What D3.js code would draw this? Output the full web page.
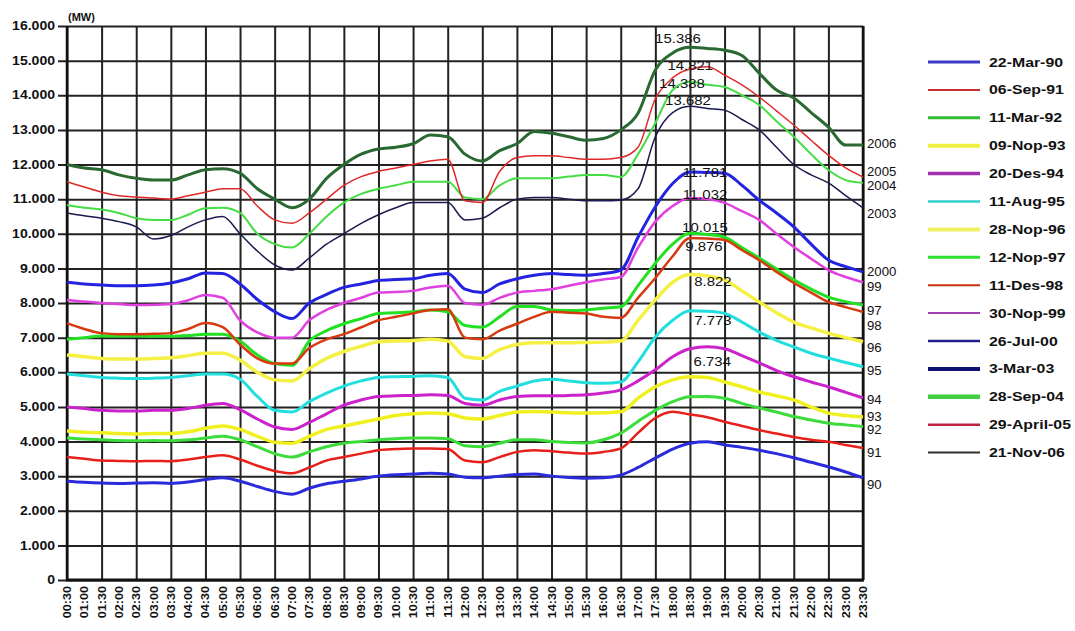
<!DOCTYPE html>
<html>
<head>
<meta charset="utf-8">
<script src="https://cdn.jsdelivr.net/npm/d3@7"></script>
<style>
  body { margin: 0; background: #fff; }
  svg { display: block; }
  text { font-family: "Liberation Sans", Arial, sans-serif; fill: #111; }
</style>
</head>
<body>
<svg id="chart" width="1075" height="631"></svg>
<script>
// Half-hourly load curves (MW) on the yearly peak-load days
const times = ["00:30","01:00","01:30","02:00","02:30","03:00","03:30","04:00","04:30","05:00",
  "05:30","06:00","06:30","07:00","07:30","08:00","08:30","09:00","09:30","10:00",
  "10:30","11:00","11:30","12:00","12:30","13:00","13:30","14:00","14:30","15:00",
  "15:30","16:00","16:30","17:00","17:30","18:00","18:30","19:00","19:30","20:00",
  "20:30","21:00","21:30","22:00","22:30","23:00","23:30"];

const seriesNames = ["22-Mar-90","06-Sep-91","11-Mar-92","09-Nop-93","20-Des-94","11-Aug-95",
  "28-Nop-96","12-Nop-97","11-Des-98","30-Nop-99","26-Jul-00","3-Mar-03","28-Sep-04",
  "29-April-05","21-Nov-06"];

const endLabels = ["90","91","92","93","94","95","96","97","98","99","2000","2003","2004","2005","2006"];

const load90 = [2850,2820,2800,2790,2800,2810,2790,2830,2900,2950,2850,2700,2560,2480,2650,2780,2850,2920,3000,3040,3060,3080,3060,2970,2950,3000,3050,3060,3000,2960,2940,2950,3030,3250,3520,3780,3950,3990,3900,3830,3750,3650,3530,3400,3270,3120,2950];
const load91 = [3550,3500,3450,3440,3430,3440,3430,3480,3550,3600,3480,3300,3150,3080,3250,3450,3550,3650,3750,3780,3800,3800,3780,3450,3400,3550,3700,3750,3720,3680,3650,3700,3800,4250,4680,4860,4780,4700,4570,4450,4330,4230,4130,4050,3990,3900,3810];
const load92 = [4100,4070,4050,4030,4020,4030,4020,4050,4100,4150,4050,3850,3650,3550,3700,3850,3950,4000,4050,4080,4100,4100,4080,3880,3850,3950,4050,4050,4000,3970,3960,4050,4240,4580,4900,5150,5290,5300,5250,5100,4970,4850,4720,4620,4530,4480,4430];
const load93 = [4300,4270,4250,4230,4220,4230,4230,4280,4380,4450,4350,4150,3980,3950,4150,4350,4450,4550,4650,4750,4800,4820,4800,4680,4650,4750,4850,4870,4850,4830,4820,4830,4860,5250,5580,5780,5870,5850,5720,5580,5430,5320,5200,5000,4820,4750,4710];
const load94 = [5000,4950,4900,4880,4880,4900,4900,4950,5050,5100,4920,4650,4420,4350,4550,4800,5050,5200,5300,5320,5330,5350,5330,5100,5050,5200,5300,5320,5320,5330,5350,5400,5490,5750,6070,6450,6680,6734,6680,6480,6270,6050,5870,5720,5580,5420,5260];
const load95 = [5950,5900,5850,5830,5820,5830,5850,5900,5950,5950,5800,5300,4900,4850,5150,5400,5600,5750,5850,5870,5880,5900,5850,5250,5200,5450,5600,5750,5800,5750,5700,5680,5720,6300,7020,7500,7773,7760,7700,7450,7160,6920,6730,6550,6410,6280,6160];
const load96 = [6500,6450,6400,6380,6380,6400,6420,6480,6550,6550,6350,6000,5780,5750,6100,6400,6600,6750,6880,6900,6920,6950,6900,6450,6400,6650,6800,6850,6850,6850,6860,6870,6900,7500,8090,8600,8822,8780,8670,8350,8030,7720,7450,7280,7130,7000,6880];
const load97 = [6950,7000,7050,7050,7050,7040,7040,7060,7100,7100,6900,6500,6250,6200,6900,7200,7400,7550,7700,7720,7750,7800,7750,7350,7300,7600,7900,7900,7800,7780,7800,7850,7890,8500,9150,9700,10015,9980,9900,9600,9300,8980,8670,8400,8170,8040,7940];
const load98 = [7420,7250,7130,7100,7100,7110,7130,7250,7420,7300,6800,6400,6250,6250,6700,6950,7100,7300,7500,7600,7700,7800,7820,7000,6950,7200,7400,7600,7750,7720,7700,7600,7570,8150,8720,9350,9876,9860,9820,9530,9240,8900,8580,8300,8030,7880,7740];
const load99 = [8090,8040,8000,7970,7940,7950,7970,8080,8230,8150,7500,7150,7000,7000,7500,7800,8000,8150,8300,8320,8350,8450,8500,8000,7950,8150,8300,8350,8400,8500,8600,8680,8750,9600,10350,10800,11032,11000,10890,10650,10400,10000,9620,9280,8950,8750,8600];
const load00 = [8600,8550,8520,8500,8500,8520,8580,8700,8870,8850,8550,8100,7750,7550,8000,8250,8450,8550,8650,8680,8700,8800,8850,8400,8300,8550,8700,8800,8850,8820,8800,8850,8950,9900,10780,11450,11781,11770,11750,11400,10970,10600,10200,9700,9240,9050,8900];
const load03 = [10600,10520,10450,10350,10200,9850,9950,10200,10400,10500,10000,9500,9100,8950,9300,9700,10000,10300,10550,10750,10900,10900,10900,10400,10450,10750,11000,11050,11050,11000,10950,10950,10970,11300,12800,13500,13682,13620,13570,13300,13000,12500,12000,11700,11470,11100,10750];
const load04 = [10830,10750,10700,10600,10450,10400,10400,10550,10740,10750,10600,10000,9700,9600,10000,10500,10900,11150,11300,11400,11500,11500,11500,11050,11000,11400,11600,11600,11600,11650,11700,11700,11640,12300,13200,14150,14388,14300,14240,14000,13720,13250,12800,12300,11840,11550,11470];
const load05 = [11500,11350,11200,11100,11060,11030,11000,11100,11200,11300,11300,10800,10400,10300,10600,11000,11400,11650,11800,11900,12000,12100,12150,10950,10900,11800,12200,12250,12250,12200,12150,12150,12200,12500,13900,14500,14760,14821,14580,14300,13950,13550,13140,12700,12270,11900,11640];
const load06 = [12000,11900,11850,11700,11600,11550,11550,11700,11850,11880,11750,11300,11000,10750,11000,11600,12000,12300,12450,12500,12600,12850,12800,12300,12100,12400,12600,12950,12900,12800,12700,12750,13000,13480,14730,15220,15386,15350,15300,15150,14640,14150,13920,13500,13080,12560,12560];

const yTicks = [0,1000,2000,3000,4000,5000,6000,7000,8000,9000,10000,11000,12000,13000,14000,15000,16000];

// Series that carry a peak value label
const peakLabelled = ["2000","99","97","98","96","95","94","2003","2004","2005","2006"];

// Styles
const lineColors  = ["#2b2bdc","#e8201c","#3ddc3d","#f0f020","#cc22cc","#22dede","#f5f044","#22e022","#d83a10","#e040e0","#2424e0","#1a1a50","#44dd44","#e02828","#2a6a32"];
const lineWidths  = [3,2.5,3,3.5,3,3,3.5,3,2.5,2.5,3,1.5,2,1.5,3];
const legendColors = ["#3a3ac8","#c83030","#33bb33","#f0f040","#a030b0","#30d0d0","#f0f060","#30e030","#c83010","#a040b0","#202090","#101070","#40d040","#c02040","#303030"];
const legendWidths = [3,2,3,4,3.5,2.5,4,3,2,2,2.5,4,4.5,2.5,2];
const endNudge = [7,5,3,0,2,4,6,6,14,5,0,6,3,-5,-1];
const peakOffsets = {"2006":[-12,-9],"2005":[-17,-1],"2004":[-8,2],"2003":[-2,-6],"2000":[15,0],
  "99":[15,-4],"97":[15,-6],"98":[14,8],"96":[23,7],"95":[23,10],"94":[5,15]};

const loads = [load90,load91,load92,load93,load94,load95,load96,load97,load98,load99,load00,load03,load04,load05,load06];

const fmt = v => d3.format(",")(v).replace(/,/g, ".");

const svg = d3.select("#chart");
const plotLeft = 67, plotRight = 863, plotTop = 26, plotBottom = 580;

const x = d3.scalePoint().domain(times).range([plotLeft, plotRight]);
const y = d3.scaleLinear().domain([0, 16000]).range([plotBottom, plotTop]);

// Horizontal grid lines (with short tick stubs to the left)
svg.append("g")
  .attr("transform", `translate(${plotLeft},0)`)
  .call(d3.axisLeft(y).tickValues(yTicks).tickSize(-(plotRight - plotLeft)).tickSizeOuter(0).tickFormat(""))
  .call(g => g.select(".domain").remove())
  .call(g => g.selectAll(".tick line").attr("x1", -9).attr("stroke", "#222").attr("stroke-width", 2));

// Vertical grid lines every hour
svg.append("g")
  .attr("transform", `translate(0,${plotBottom})`)
  .call(d3.axisBottom(x).tickValues(times.filter((t, i) => i % 2 === 0)).tickSize(-(plotBottom - plotTop)).tickSizeOuter(0).tickFormat(""))
  .call(g => g.select(".domain").remove())
  .call(g => g.selectAll(".tick line").attr("stroke", "#222").attr("stroke-width", 2));

// Axis frame
svg.append("line").attr("x1", plotLeft).attr("x2", plotLeft).attr("y1", plotTop).attr("y2", plotBottom)
  .attr("stroke", "#111").attr("stroke-width", 2.5);
svg.append("line").attr("x1", plotLeft - 1).attr("x2", plotRight + 1).attr("y1", plotBottom).attr("y2", plotBottom)
  .attr("stroke", "#111").attr("stroke-width", 3);
svg.append("line").attr("x1", plotRight).attr("x2", plotRight).attr("y1", plotTop).attr("y2", plotBottom)
  .attr("stroke", "#111").attr("stroke-width", 2.5);

// Y tick labels
svg.append("g").selectAll("text").data(yTicks).join("text")
  .attr("transform", d => `translate(55,${y(d)}) scale(1.17,1)`)
  .attr("text-anchor", "end").attr("dy", "0.35em")
  .style("font-size", "12px").style("font-weight", "bold")
  .text(fmt);

svg.append("text").attr("transform", `translate(${plotLeft + 1},21) scale(1.1,1)`)
  .style("font-size", "10px").style("font-weight", "bold").text("(MW)");

// X tick labels, rotated
svg.append("g").selectAll("text").data(times).join("text")
  .attr("transform", d => `translate(${x(d) + 4},586) rotate(-90) scale(1.15,1)`)
  .attr("text-anchor", "end")
  .style("font-size", "11px").style("font-weight", "bold")
  .text(d => d);

// Load curves
const line = d3.line().x((d, i) => x(times[i])).y(d => y(d)).curve(d3.curveMonotoneX);
svg.append("g").selectAll("path").data(loads).join("path")
  .attr("d", line)
  .attr("fill", "none")
  .attr("stroke", (d, i) => lineColors[i])
  .attr("stroke-width", (d, i) => lineWidths[i])
  .attr("stroke-linejoin", "round");

// Year labels at the line ends
svg.append("g").selectAll("text").data(loads).join("text")
  .attr("transform", (d, i) => `translate(867,${y(d[d.length - 1]) + endNudge[i]}) scale(1.1,1)`)
  .attr("dy", "0.35em")
  .style("font-size", "12px")
  .text((d, i) => endLabels[i]);

// Peak value labels
const peaks = loads.map((d, i) => {
  const m = d3.max(d);
  return { key: endLabels[i], value: m, idx: d.indexOf(m) };
}).filter(p => peakLabelled.includes(p.key));

svg.append("g").selectAll("text").data(peaks).join("text")
  .attr("transform", p => `translate(${x(times[p.idx]) + peakOffsets[p.key][0]},${y(p.value) + peakOffsets[p.key][1]}) scale(1.15,1)`)
  .attr("text-anchor", "middle").attr("dy", "0.35em")
  .style("font-size", "13px")
  .text(p => fmt(p.value));

// Legend
const lg = svg.append("g").selectAll("g").data(seriesNames).join("g")
  .attr("transform", (d, i) => `translate(928,${62 + i * 27.9})`);
lg.append("line").attr("x1", 0).attr("x2", 52)
  .attr("stroke", (d, i) => legendColors[i])
  .attr("stroke-width", (d, i) => legendWidths[i]);
lg.append("text")
  .attr("transform", "translate(61,0) scale(1.22,1)")
  .attr("dy", "0.35em")
  .style("font-size", "13px").style("font-weight", "bold")
  .text(d => d);
</script>
</body>
</html>
